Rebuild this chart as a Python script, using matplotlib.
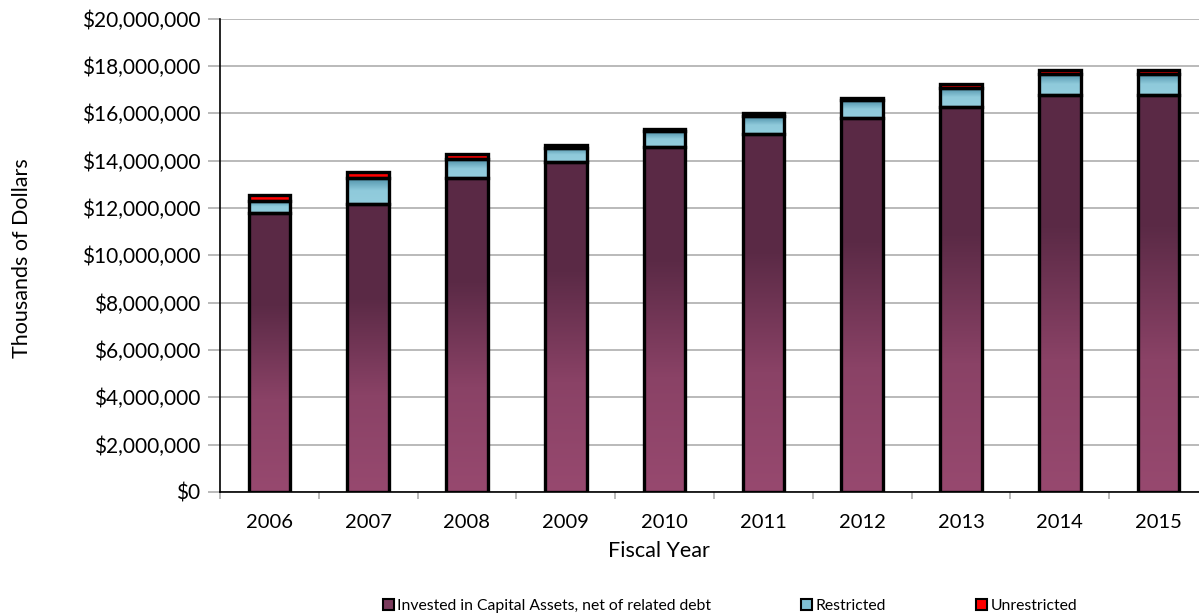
import numpy as np
import matplotlib.pyplot as plt
from matplotlib.colors import LinearSegmentedColormap
from matplotlib.patches import Patch
from matplotlib.ticker import FuncFormatter, FixedLocator

# net position, thousands of dollars
years = ["2006", "2007", "2008", "2009", "2010", "2011", "2012", "2013", "2014", "2015"]
invested = [11770000, 12180000, 13250000, 13920000, 14570000, 15120000, 15790000, 16260000, 16760000, 16780000]
restricted = [540000, 1100000, 800000, 620000, 670000, 760000, 750000, 820000, 900000, 890000]
unrestricted = [240000, 220000, 210000, 110000, 100000, 120000, 110000, 150000, 170000, 170000]

labels = ["Invested in Capital Assets, net of related debt", "Restricted", "Unrestricted"]

plt.rcParams['font.family'] = ['Lato', 'DejaVu Sans']

fig = plt.figure(figsize=(11.99, 6.15), dpi=100)
ax = fig.add_axes([220 / 1199, 123 / 615, 988 / 1199, 473.5 / 615])

# vertical gradients (bottom -> top)
cm_inv = LinearSegmentedColormap.from_list("inv", ["#97496f", "#8a4266", "#5b2a46", "#5a2945"])
cm_res = LinearSegmentedColormap.from_list("res", ["#93cddd", "#8fcadb", "#4b8ea6"])
cm_unr = LinearSegmentedColormap.from_list("unr", ["#ff0000", "#ff0000"])

x = np.arange(len(years))
width = 0.42
grad = np.linspace(0, 1, 256).reshape(-1, 1)

bottom = np.zeros(len(years))
for vals, cmap in [(invested, cm_inv), (restricted, cm_res), (unrestricted, cm_unr)]:
    vals = np.array(vals, dtype=float)
    bars = ax.bar(x, vals, width, bottom=bottom, facecolor="none",
                  edgecolor="black", linewidth=2.4, zorder=3)
    for b in bars:
        x0, y0 = b.get_x(), b.get_y()
        im = ax.imshow(grad, cmap=cmap, origin="lower", aspect="auto",
                       extent=[x0, x0 + b.get_width(), y0, y0 + b.get_height()],
                       zorder=2, interpolation="bilinear")
        im.set_clip_path(b)
    bottom += vals

ax.set_xlim(-0.5, len(years) - 0.5)
ax.set_ylim(0, 20000000)
ax.set_yticks(np.arange(0, 20000001, 2000000))
ax.yaxis.set_major_formatter(FuncFormatter(lambda v, p: "${:,.0f}".format(v)))
ax.grid(axis="y", color="#b4b4b4", linewidth=1.3, zorder=0)
ax.set_axisbelow(True)

# category boundaries as ticks, year labels at centers
ax.xaxis.set_major_locator(FixedLocator(np.arange(-0.5, len(years), 1.0)))
ax.xaxis.set_minor_locator(FixedLocator(x))
ax.set_xticklabels([])
ax.set_xticklabels(years, minor=True)
ax.tick_params(axis="x", which="major", length=5, color="#b4b4b4", width=1.3)
ax.tick_params(axis="x", which="minor", length=0, pad=16, labelsize=14.5)
ax.tick_params(axis="y", length=9, color="#b4b4b4", width=1.3, pad=5, labelsize=15)

for s in ["top", "right"]:
    ax.spines[s].set_visible(False)
ax.spines["left"].set_color("black")
ax.spines["bottom"].set_color("black")
ax.spines["left"].set_linewidth(1.2)
ax.spines["bottom"].set_linewidth(1.2)

fig.text(659 / 1199, 1 - 551 / 615, "Fiscal Year", fontsize=15.5, ha="center", va="center")
fig.text(22 / 1199, 1 - 258 / 615, "Thousands of Dollars", rotation=90,
         fontsize=15.5, ha="center", va="center")

handles = [Patch(facecolor="#7a3a5c", edgecolor="black", linewidth=1.5),
           Patch(facecolor="#7fc0d4", edgecolor="black", linewidth=1.5),
           Patch(facecolor="#ff0000", edgecolor="black", linewidth=1.5)]
fig.legend(handles, labels, loc="center", bbox_to_anchor=(730 / 1199, 1 - 606 / 615),
           ncol=3, frameon=False, fontsize=11.3, handlelength=0.7, handleheight=0.7,
           handletextpad=0.2, columnspacing=5.75)

fig.savefig("out.png", dpi=100)
